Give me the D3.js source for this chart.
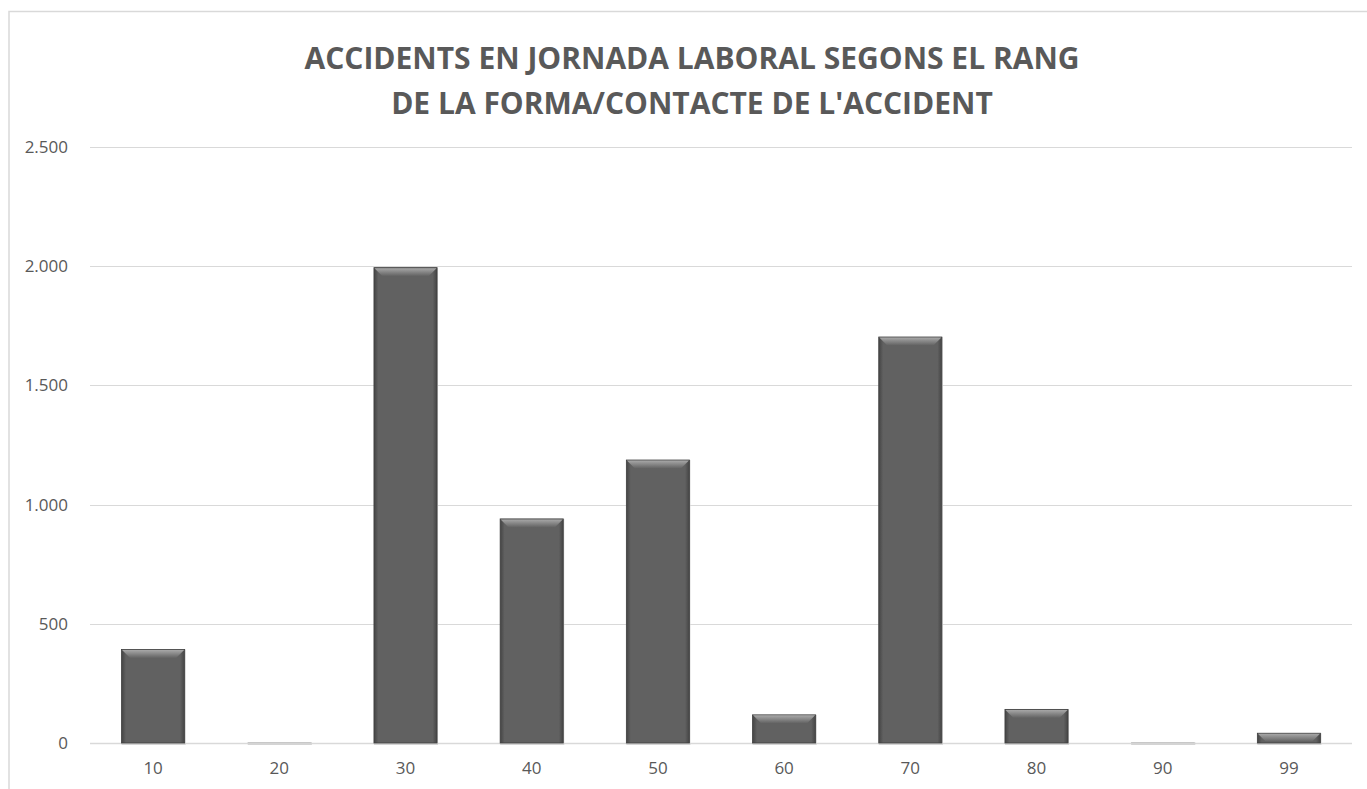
<!DOCTYPE html>
<html>
<head>
<meta charset="utf-8">
<script src="https://cdn.jsdelivr.net/npm/d3@7"></script>
<style>
  body { margin: 0; background: #fff; }
  .axis text { font-family: "Open Sans", "Noto Sans", sans-serif; font-size: 17px; fill: #595959; }
</style>
</head>
<body>
<div id="chart"></div>
<script>
var categories = ['10', '20', '30', '40', '50', '60', '70', '80', '90', '99'];
var values = [392, 4, 1994, 940, 1187, 118, 1703, 141, 4, 41];
var yTicks = [0, 500, 1000, 1500, 2000, 2500];
var titleLines = ['ACCIDENTS EN JORNADA LABORAL SEGONS EL RANG', 'DE LA FORMA/CONTACTE DE L\'ACCIDENT'];

var W = 1367, H = 789;
var margin = { top: 147, right: 15, bottom: 46, left: 90 };

var svg = d3.select('#chart').append('svg')
    .attr('width', W)
    .attr('height', H);

var defs = svg.append('defs');
// horizontal shading of the bar body, darker edges
var body = defs.append('linearGradient').attr('id', 'barBody');
body.append('stop').attr('offset', '0%').attr('stop-color', '#444');
body.append('stop').attr('offset', '7%').attr('stop-color', '#616161');
body.append('stop').attr('offset', '93%').attr('stop-color', '#616161');
body.append('stop').attr('offset', '100%').attr('stop-color', '#444');
// top bevel, light to dark
var bevel = defs.append('linearGradient').attr('id', 'barBevel')
    .attr('x1', 0).attr('y1', 0).attr('x2', 0).attr('y2', 1);
bevel.append('stop').attr('offset', '0%').attr('stop-color', '#a8a8a8');
bevel.append('stop').attr('offset', '100%').attr('stop-color', '#626262');

// chart area border
svg.append('rect')
    .attr('x', 9).attr('y', 11.5)
    .attr('width', W + 20).attr('height', H + 20)
    .attr('fill', 'none')
    .attr('stroke', '#d9d9d9')
    .attr('stroke-width', 1.5);

var x = d3.scaleBand()
    .domain(categories)
    .range([margin.left, W - margin.right])
    .paddingInner(0.5)
    .paddingOuter(0.25);

var y = d3.scaleLinear()
    .domain([0, 2500])
    .range([H - margin.bottom, margin.top]);

var locale = d3.formatLocale({ decimal: ',', thousands: '.', grouping: [3], currency: ['', '€'] });
var fmt = locale.format(',');

// gridlines
svg.append('g')
    .selectAll('line')
    .data(yTicks)
    .enter()
    .append('line')
      .attr('x1', margin.left)
      .attr('x2', W - margin.right)
      .attr('y1', function(d) { return Math.round(y(d)) + 0.5; })
      .attr('y2', function(d) { return Math.round(y(d)) + 0.5; })
      .attr('stroke', '#d9d9d9')
      .attr('stroke-width', function(d) { return d === 0 ? 1.5 : 1; });

// y axis labels
var yAxis = svg.append('g')
    .attr('class', 'axis')
    .attr('transform', 'translate(' + (margin.left - 22) + ',0)')
    .call(d3.axisLeft(y).tickValues(yTicks).tickFormat(fmt).tickSize(0).tickPadding(0));
yAxis.select('.domain').remove();

// x axis labels
var xAxis = svg.append('g')
    .attr('class', 'axis')
    .attr('transform', 'translate(0,' + (H - margin.bottom) + ')')
    .call(d3.axisBottom(x).tickSize(0).tickPadding(19));
xAxis.select('.domain').remove();

// bars
var bars = svg.append('g')
    .selectAll('g')
    .data(values)
    .enter()
    .append('g');

// soft shadow under each bar
bars.append('rect')
    .attr('x', function(d, i) { return x(categories[i]); })
    .attr('y', function(d) { return y(d); })
    .attr('width', x.bandwidth() + 1)
    .attr('height', function(d) { return y(0) - y(d) + 2; })
    .attr('fill', '#d4d4d4');

bars.append('rect')
    .attr('x', function(d, i) { return x(categories[i]); })
    .attr('y', function(d) { return y(d); })
    .attr('width', x.bandwidth())
    .attr('height', function(d) { return y(0) - y(d); })
    .attr('fill', function(d) { return d < 10 ? '#c8c8c8' : 'url(#barBody)'; })
    .attr('stroke', function(d) { return d < 10 ? 'none' : '#404040'; })
    .attr('stroke-width', 0.8);

// top bevel
bars.filter(function(d) { return d >= 10; })
  .append('path')
    .attr('d', function(d) {
      var i = values.indexOf(d);
      var x0 = x(categories[i]) + 0.5, x1 = x0 + x.bandwidth() - 1;
      var t = y(d) + 0.5, b = t + 8;
      return 'M' + x0 + ',' + t + 'L' + x1 + ',' + t + 'L' + (x1 - 8) + ',' + b + 'L' + (x0 + 8) + ',' + b + 'Z';
    })
    .attr('fill', 'url(#barBevel)');

// title
svg.append('text')
    .attr('x', 692)
    .attr('y', 69)
    .attr('text-anchor', 'middle')
    .style('font-family', '"Open Sans", "Noto Sans", sans-serif')
    .style('font-size', '30px')
    .style('font-weight', 'bold')
    .style('fill', '#595959')
    .selectAll('tspan')
    .data(titleLines)
    .enter()
    .append('tspan')
      .attr('x', 692)
      .attr('dy', function(d, i) { return i === 0 ? 0 : 45; })
      .text(function(d) { return d; });
</script>
</body>
</html>
